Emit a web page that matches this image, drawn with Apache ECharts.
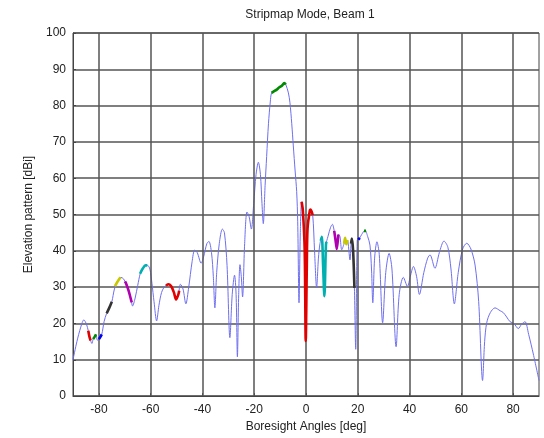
<!DOCTYPE html>
<html><head><meta charset="utf-8">
<script src="https://cdn.jsdelivr.net/npm/echarts@6/dist/echarts.min.js"></script>
<style>html,body{margin:0;padding:0;background:#fff}#c{width:544px;height:438px}</style>
</head><body><div id="c"></div>
<script>
const xTicks = [-80, -60, -40, -20, 0, 20, 40, 60, 80];
const yTicks = [0, 10, 20, 30, 40, 50, 60, 70, 80, 90, 100];

const pattern = [
[-90,10],[-88.5,15],[-87,19],[-85.8,21],[-84.8,19.8],[-84.1,18],[-83.2,15.3],[-82.7,14.5],[-82.2,15.7],[-81.1,17],[-80.6,15.4],[-80,15.7],[-78.9,17],
[-78,20.5],[-77,22.8],[-76,24.3],[-75,26],[-74,29.5],[-73,31.3],[-72,32.4],[-71.5,32.7],[-70.5,32.3],[-69.5,31],[-68.5,29],[-67.5,26.3],[-67,24.8],
[-66,27],[-65,30.5],[-64,33.8],[-63,35.2],[-62,36],[-61.2,36],[-60.3,35],[-59.5,31],[-58.7,26],[-57.7,20.7],[-56.8,25],[-55.8,28.5],[-54.5,30.3],
[-53,30.8],[-52,30.2],[-51,28.5],[-50.2,26.6],[-49.3,28],[-48.5,30.8],[-47.5,29.5],[-46.4,25.4],[-45.3,30],[-44,37],[-43,40.2],[-42,39.5],
[-40.5,36.6],[-39.5,38.5],[-38.3,42],[-37.5,42.6],[-36.5,39.5],[-35.8,33],[-35.2,24.3],[-34.5,34],[-33.5,42],[-32.3,46],[-31.5,45],[-30.5,36],
[-29.4,16.1],[-28.5,28],[-27.6,33.3],[-27,28],[-26.5,10.8],[-26,28],[-25.5,36.2],[-25,33],[-24.5,27.3],[-23.7,42],[-22.8,50.7],[-22,49.5],
[-21.1,46],[-20.2,53],[-19.3,61],[-18.4,64.4],[-17.6,61],[-17,53],[-16.5,47.5],[-15.8,58],[-15.2,66],[-14.5,75],[-13.8,81],[-13.3,83.5],
[-12.3,84],[-11.3,84.4],[-10.4,85],[-9.3,85.5],[-8.4,86.2],[-7.8,85.8],[-6.8,83.5],[-6.2,80.8],[-5.5,75],[-4.9,68.9],[-4.2,62],[-3.6,56.3],
[-3.2,48],[-2.7,25.7],[-2.2,45],[-1.7,53.5],[-1.2,51],[-0.5,40],[-0.1,15.2],[0.3,35],[0.6,46.2],[1.5,51.2],[1.8,51.4],[2.6,49.8],[3.3,40],
[4.1,29.8],[4.8,38],[5.4,42],[6.1,43.9],[6.6,36],[7.1,27.5],[7.7,41.6],[8.5,44],[9.5,46.5],[10.2,47.3],[10.9,45.5],[11.4,43],[11.9,40.5],
[12.5,44.5],[13.1,44],[13.8,40.3],[14.7,42],[15.1,43.6],[15.6,41.8],[16,43],[17,37.5],[17.4,42],[17.7,43.4],[18.2,40],[18.7,29.8],[19.2,12.9],
[19.8,43],[20.5,43.3],[21.5,44.5],[22.8,45.7],[23.8,44],[24.7,41.6],[25.3,35],[25.8,25.7],[26.5,38],[27.4,42.5],[28.3,39],[29.6,20.2],
[30.8,34],[32.1,39.3],[33.2,35],[34.8,13.6],[36,28],[37.6,32.7],[39.2,30.2],[40.3,33],[41.5,35.7],[42.7,33],[43.8,28],[45.5,34],[47,38],
[47.9,38.9],[49.8,35.2],[51.5,39.5],[53.3,42.7],[54.8,41],[56,35],[57.3,25.4],[58.8,34],[60.5,40.5],[62.1,42.1],[63.7,40.5],[65.3,36.1],
[66.7,26],[68.2,4.3],[69,15],[69.8,20.2],[71.2,23],[73,24.3],[75,23.5],[76.2,23],[77.5,21.8],[78.8,20.5],[80.3,20],[82,18.6],[83.3,19.8],
[84.6,20.5],[86,17],[87.8,11.6],[90,4.3]
];

const segRed1 = [[-84.1,18],[-83.6,16.2],[-83.2,15.3]];
const segGreen1 = [[-82.2,15.7],[-81.6,16.4],[-81.1,17]];
const segBlue1 = [[-80,15.7],[-79.4,16.3],[-78.9,17]];
const segBlack1 = [[-77,22.8],[-76,24.3],[-75,26]];
const segYellow1 = [[-73.8,30.3],[-73,31.3],[-72,32.4],[-71.6,32.7]];
const segMagenta1 = [[-69.9,31.6],[-69.5,31],[-68.5,29],[-67.5,26.3],[-67.3,25.8]];
const segCyan1 = [[-64.1,33.7],[-63,35.2],[-62,36],[-61.3,36]];
const segRed2 = [[-54.1,30.5],[-53,30.8],[-52,30.2],[-51,28.5],[-50.2,26.6],[-49.3,28],[-49,29]];
const segGreen2 = [[-13.3,83.5],[-12.3,84],[-11.3,84.4],[-10.4,85],[-9.3,85.5],[-8.4,86.2],[-7.8,85.8]];
const segRed3 = [[-1.7,53.5],[-1.2,51],[-0.5,40],[-0.1,15.2],[0.3,35],[0.6,46.2],[1.5,51.2],[1.8,51.4],[2.6,49.8]];
const segCyan2 = [[5.7,42.8],[6.1,43.9],[6.6,36],[7.1,27.5],[7.7,41.6],[7.9,42.5]];
const segMagenta2 = [[10.9,45.5],[11.4,43],[11.9,40.5],[12.5,44.5]];
const segYellow2 = [[14.7,42],[15.1,43.6],[15.6,41.8],[16,43]];
const segBlack2 = [[17.4,42],[17.7,43.4],[18.2,40],[18.7,29.8]];
const segBlue2 = [[20.2,43.1],[20.8,43.6]];
const segGreen3 = [[22.4,45.5],[23.2,45.5]];

const font = 'Liberation Sans, Arial, sans-serif';
const chart = echarts.init(document.getElementById('c'), null, {renderer: 'canvas'});

function seg(data, color) {
  return {type: 'line', data: data, showSymbol: false, silent: true, z: 5,
    lineStyle: {color: color, width: 2.6}, smooth: 0.3};
}

chart.setOption({
  animation: false,
  backgroundColor: '#fff',
  title: {text: 'Stripmap Mode, Beam 1', left: 305, top: 4, textAlign: 'center',
    textStyle: {fontFamily: font, fontSize: 12, fontWeight: 'normal', color: '#222'}},
  grid: {left: 73, right: 5, top: 33, bottom: 39, show: true, borderColor: '#444', borderWidth: 1, backgroundColor: '#fff'},
  xAxis: {
    type: 'value', min: -90, max: 90, interval: 10,
    name: 'Boresight Angles [deg]', nameLocation: 'middle', nameGap: 23,
    nameTextStyle: {fontFamily: font, fontSize: 12, color: '#222'},
    axisLine: {show: true, onZero: false, lineStyle: {color: '#444'}},
    axisTick: {show: true, inside: true, length: 3, customValues: xTicks, lineStyle: {color: '#444'}},
    axisLabel: {customValues: xTicks, fontFamily: font, fontSize: 12, color: '#222', margin: 8},
    splitLine: {show: false}
  },
  yAxis: {
    type: 'value', min: 0, max: 100, interval: 10,
    name: 'Elevation pattern [dBi]', nameLocation: 'middle', nameGap: 33, nameRotate: 90,
    nameTextStyle: {fontFamily: font, fontSize: 12, color: '#222'},
    axisLine: {show: true, onZero: false, lineStyle: {color: '#444'}},
    axisTick: {show: true, inside: true, length: 3, lineStyle: {color: '#444'}},
    axisLabel: {fontFamily: font, fontSize: 12, color: '#222', margin: 7,
      formatter: v => yTicks.includes(v) ? String(v) : ''},
    splitLine: {show: true, lineStyle: {color: '#555', width: 1.5}}
  },
  series: [
    {type: 'line', data: [], silent: true, z: 1,
      markLine: {silent: true, symbol: 'none', label: {show: false},
        lineStyle: {color: '#555', width: 1.5, type: 'solid'},
        data: xTicks.map(v => ({xAxis: v}))}},
    {type: 'line', data: pattern, showSymbol: false, smooth: 0.3, z: 3,
      lineStyle: {color: '#6f6ff0', width: 1}},
    seg(segRed1, '#e00000'), seg(segGreen1, '#008a00'), seg(segBlue1, '#0000ee'),
    seg(segBlack1, '#333333'), seg(segYellow1, '#c8c800'), seg(segMagenta1, '#b000b0'),
    seg(segCyan1, '#00b0b0'), seg(segRed2, '#e00000'), seg(segGreen2, '#008a00'),
    seg(segRed3, '#e00000'), seg(segCyan2, '#00b0b0'), seg(segMagenta2, '#b000b0'),
    seg(segYellow2, '#c8c800'), seg(segBlack2, '#333333'), seg(segBlue2, '#0000ee'),
    seg(segGreen3, '#008a00')
  ]
});
</script></body></html>
